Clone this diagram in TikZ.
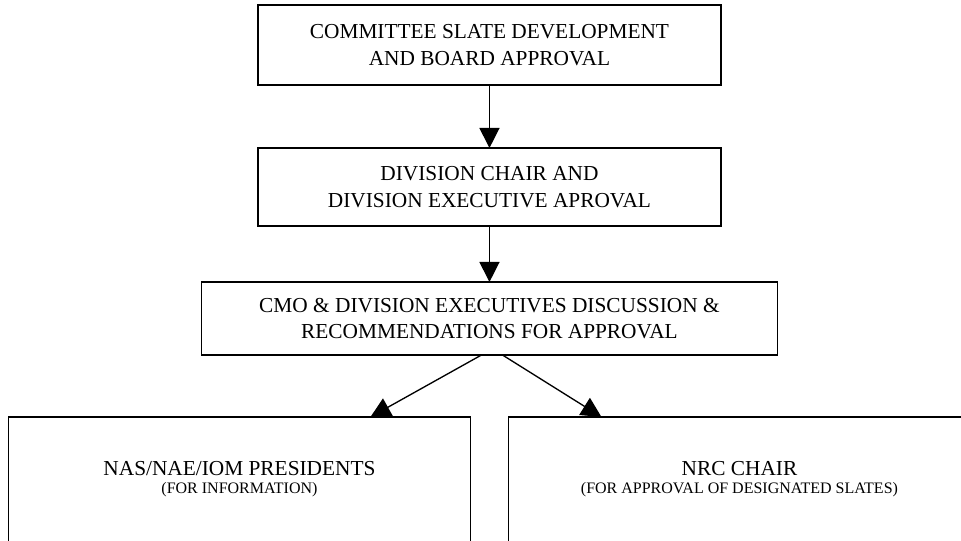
\documentclass[tikz,border=0pt]{standalone}
\usepackage{fontspec}
\setmainfont{Liberation Serif}
\usetikzlibrary{arrows.meta, positioning, calc}
\newcommand{\smalltxt}{\fontsize{12}{14}\selectfont}
\tikzset{
  >={Triangle[length=15pt, width=15pt]},
  stepbox/.style  = {draw, line width=1.4pt, align=center, outer sep=0pt,
                     font=\fontsize{16}{20}\selectfont, inner sep=2pt},
  outbox/.style   = {draw, line width=1.4pt, outer sep=0pt,
                     minimum width=346.5pt, minimum height=120pt},
  outtext/.style  = {align=center, anchor=north, inner sep=0pt,
                     font=\fontsize{16}{20}\selectfont},
  arrow/.style    = {->, line width=1pt},
}

\begin{document}
\begin{tikzpicture}[node distance=47.25pt]
  \useasboundingbox (0,0) rectangle (720.75pt,-405.75pt);
  \clip (0,0) rectangle (720.75pt,-405.75pt);

  % ---------- approval chain -----------------------------------------
  \node[stepbox, minimum width=347.25pt, minimum height=60pt] (slate)
    at (367.1pt,-33.75pt)
    {COMMITTEE SLATE DEVELOPMENT\\AND BOARD APPROVAL};
  \node[stepbox, minimum width=347.25pt, minimum height=58.5pt,
        below=of slate] (divchair)
    {DIVISION CHAIR AND\\DIVISION EXECUTIVE APROVAL};
  \node[stepbox, minimum width=432pt, minimum height=54.75pt,
        below=42pt of divchair] (cmo)
    {CMO \& DIVISION EXECUTIVES DISCUSSION \&\\RECOMMENDATIONS FOR APPROVAL};
  \draw[arrow] (slate) -- (divchair);
  \draw[arrow] (divchair) -- (cmo);

  % ---------- final recipients ---------------------------------------
  \node[outbox, below=46.5pt of cmo.south, anchor=north east, xshift=-14.25pt,
        label={[outtext, yshift=-33pt]north:NAS/NAE/IOM PRESIDENTS\\[-6.5pt]{\smalltxt (FOR INFORMATION)}}]
    (pres) {};
  \node[outbox, below=46.5pt of cmo.south, anchor=north west, xshift=14.25pt,
        label={[outtext, yshift=-33pt]north:NRC CHAIR\\[-6.5pt]{\smalltxt (FOR APPROVAL OF DESIGNATED SLATES)}}]
    (nrc) {};
  \draw[arrow] ($(cmo.south)+(-6pt,0)$) -- ($(pres.north east)+(-75pt,0)$);
  \draw[arrow] ($(cmo.south)+(9.75pt,0)$) -- ($(nrc.north west)+(69.75pt,0)$);
\end{tikzpicture}
\end{document}
